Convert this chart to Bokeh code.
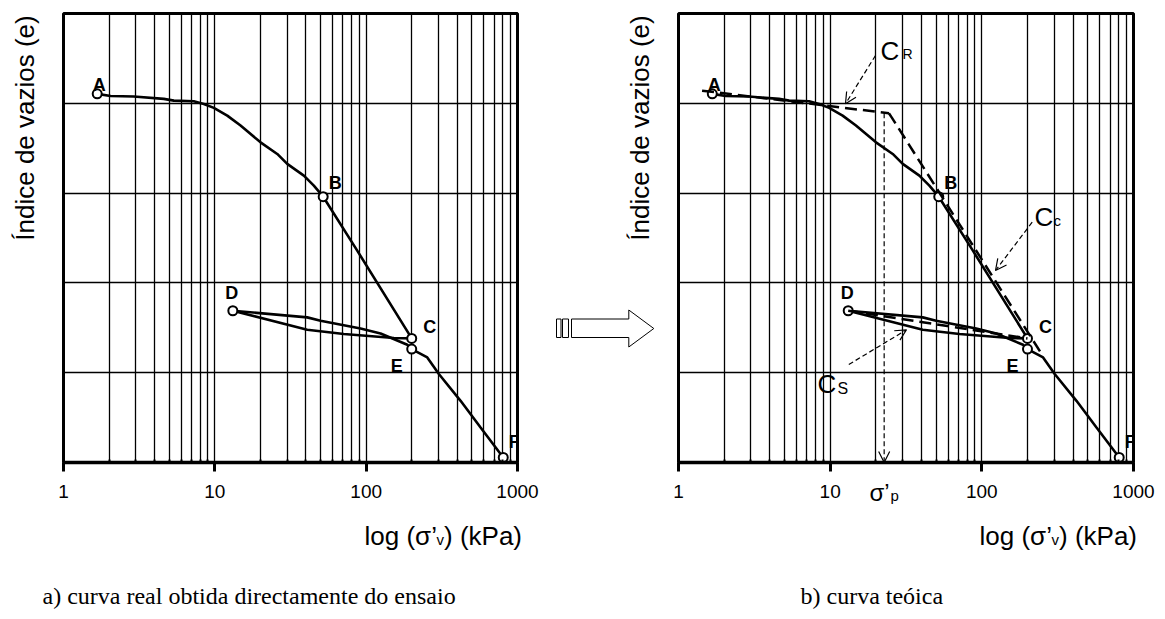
import math
from bokeh.plotting import figure
from bokeh.layouts import row, column
from bokeh.models import (Range1d, FixedTicker, NumeralTickFormatter, Label, Arrow,
                          OpenHead, ColumnDataSource, GridBox)
from bokeh.core.properties import value
from bokeh.embed import file_html
from bokeh.resources import INLINE

# ---------------- data ----------------
x_major = [1, 10, 100, 1000]
x_minor = [2, 3, 4, 5, 6, 7, 8, 9, 20, 30, 40, 50, 60, 70, 80, 90,
           200, 300, 400, 500, 600, 700, 800, 900]
e_grid = [1, 2, 3, 4]

# loading branch A -> B -> C  (sigma'v in kPa, void ratio in grid units)
load_s = [1.67, 2.05, 2.91, 4.60, 5.36, 7.26, 8.46, 9.85, 12.08, 14.79, 20.05,
          25.85, 30.09, 38.74, 45.1, 52.0, 87.3, 200]
load_e = [4.105, 4.082, 4.075, 4.049, 4.030, 4.022, 3.993, 3.949, 3.863, 3.752,
          3.565, 3.436, 3.325, 3.194, 3.083, 2.96, 2.359, 1.382]
# unloading C -> D
unload_s = [200, 152.5, 71.2, 40.8, 13.15]
unload_e = [1.382, 1.386, 1.431, 1.479, 1.69]
# reloading D -> E -> F
reload_s = [13.15, 40.8, 49.96, 91.8, 124.5, 186.9, 200, 253.4, 302.3, 420.7, 570.2, 805]
reload_e = [1.69, 1.616, 1.579, 1.493, 1.437, 1.311, 1.263, 1.170, 0.985, 0.687, 0.390, 0.056]

pt_names = ["A", "B", "C", "D", "E", "F"]
pt_s = [1.67, 52.0, 200, 13.15, 200, 805]
pt_e = [4.105, 2.96, 1.382, 1.69, 1.263, 0.056]

# theoretical construction lines (right chart)
cr_s = [1.43, 24.4]
cr_e = [4.141, 3.889]
cc_s = [24.4, 25.5, 245.0]
cc_e = [3.889, 3.841, 1.222]
cs_s = [13.15, 200]
cs_e = [1.69, 1.382]
sigma_p = 22.7

y_title = "Índice de vazios (e)"
captions = ["a) curva real obtida directamente do ensaio", "b) curva teóica"]

# ---------------- layout ----------------
FB = 462.0          # frame bottom (page px)
FT = 13.0
UNIT = (FB - FT) / 5.0
H = 619
W = 1165


def make_fig(width, border_left, border_right):
    p = figure(width=width, height=H, x_axis_type="log",
               x_range=Range1d(1, 1000), y_range=Range1d(0, 5),
               output_backend="svg", toolbar_location=None,
               min_border_left=border_left, min_border_right=border_right,
               min_border_top=int(FT), min_border_bottom=int(H - FB))
    p.background_fill_color = "white"
    p.border_fill_color = "white"
    p.outline_line_color = "black"
    p.outline_line_width = 3
    p.yaxis.visible = False
    xa = p.xaxis[0]
    xa.ticker = FixedTicker(ticks=x_major, minor_ticks=x_minor)
    xa.formatter = NumeralTickFormatter(format="0")
    xa.axis_line_width = 3.5
    xa.axis_line_color = "black"
    xa.major_tick_out = 9
    xa.major_tick_in = 0
    xa.major_tick_line_width = 3
    xa.major_tick_line_color = "black"
    xa.minor_tick_in = 3
    xa.minor_tick_out = 0
    xa.minor_tick_line_width = 2
    xa.minor_tick_line_color = "black"
    xa.major_label_text_font = "Liberation Sans"
    xa.major_label_text_font_size = "19px"
    xa.major_label_text_color = "black"
    xa.major_label_standoff = 13
    g = p.xgrid[0]
    g.grid_line_color = "black"
    g.grid_line_width = 1.3
    g.minor_grid_line_color = "black"
    g.minor_grid_line_width = 1.3
    yg = p.ygrid[0]
    yg.ticker = FixedTicker(ticks=e_grid)
    yg.grid_line_color = "black"
    yg.grid_line_width = 1.3
    return p


def draw_curve(p):
    p.line(load_s, load_e, line_color="black", line_width=2.6)
    p.line(unload_s, unload_e, line_color="black", line_width=2.6)
    p.line(reload_s, reload_e, line_color="black", line_width=2.6)
    p.scatter(pt_s, pt_e, marker="circle", size=9, fill_color="white",
              line_color="black", line_width=2)
    offs_x = [2, 12, 18, -1, -15, 11]
    offs_y = [-9, -14, -11, -18, 17, -15]
    src = ColumnDataSource(dict(x=pt_s, y=pt_e, t=pt_names, dx=offs_x, dy=offs_y))
    p.text("x", "y", text="t", source=src, x_offset="dx", y_offset="dy",
           text_align="center", text_baseline="middle",
           text_font=value("Liberation Sans"), text_font_style="bold",
           text_font_size="18px", text_color="black")


# ---------------- left chart ----------------
p1 = make_fig(550, 63, 33)
draw_curve(p1)

# ---------------- right chart ----------------
p2 = make_fig(615, 128, 32)
FL2 = 678
DEC2 = (1133 - 678) / 3
draw_curve(p2)


def X(px):
    return 10 ** ((px - FL2) / DEC2)


def Y(py):
    return (FB - py) / UNIT


dash_kw = dict(line_color="black", line_width=2.5, line_dash="12 6")
p2.line(cr_s, cr_e, **dash_kw)
p2.line(cc_s, cc_e, **dash_kw)
p2.line(cs_s, cs_e, **dash_kw)


def dashed_arrow(p, xs, ys, xe, ye):
    p.add_layout(Arrow(end=OpenHead(size=11, line_width=1.2, line_color="black"),
                       x_start=xs, y_start=ys, x_end=xe, y_end=ye,
                       line_color="black", line_width=1.2, line_dash="5 3"))


dashed_arrow(p2, sigma_p, cr_e[1], sigma_p, 0)        # sigma'p
dashed_arrow(p2, X(875), Y(55), X(845), Y(103.3))      # C_R
dashed_arrow(p2, X(1031.7), Y(221.7), X(995), Y(270))  # C_c
dashed_arrow(p2, X(848.3), Y(364), X(906), Y(329.3))   # C_s

# ---------------- overlay (page pixel coordinates) for texts outside frames ----------------
ov = figure(width=W, height=H, x_range=Range1d(0, W), y_range=Range1d(H, 0),
            output_backend="svg", toolbar_location=None,
            x_axis_location=None, y_axis_location=None, min_border=0)
ov.grid.visible = False
ov.outline_line_color = None
ov.background_fill_color = None
ov.border_fill_color = None


def lab(px, py, txt, size, font="Liberation Sans", angle=0.0, align="left"):
    ov.add_layout(Label(x=px, y=py, text=txt, text_align=align,
                        text_baseline="alphabetic", text_font=font,
                        text_font_size=size, text_color="black", angle=angle))


def lab2(px, py, txt, size):
    p2.add_layout(Label(x=X(px), y=Y(py), text=txt, text_align="left",
                        text_baseline="alphabetic", text_font="Liberation Sans",
                        text_font_size=size, text_color="black"))


for shift in (0, 615):
    # y axis title
    lab(24 + shift, 127.5, y_title, "26px", angle=math.pi / 2, align="center")
    # x axis title  log (σ'v) (kPa)
    x0 = 364 + shift
    lab(x0, 535, "log (σ’", "26px")
    lab(x0 + 72, 539, "v", "15px")
    lab(x0 + 79.5, 535, ") (kPa)", "26px")

lab(42, 595, captions[0], "24px", font="Liberation Serif")
lab(800, 595, captions[1], "24px", font="Liberation Serif")

# sigma'p
lab(869, 492, "σ’", "24px")
lab(890, 495, "p", "15px")

# labels inside the right frame
lab2(880, 50, "C", "26px")
lab2(902, 53, "R", "14px")
lab2(1034, 216, "C", "26px")
lab2(1053, 220, "c", "15px")
lab2(817, 383, "C", "26px")
lab2(837, 388, "S", "16px")

# block arrow between the charts
ov.patches(xs=[[556, 560.5, 560.5, 556], [562, 568, 568, 562],
               [571, 628.3, 628.3, 653.3, 628.3, 628.3, 571]],
           ys=[[318.5, 318.5, 337, 337], [318.5, 318.5, 337, 337],
               [318.5, 318.5, 309.5, 328, 346.5, 337, 337]],
           fill_color="white", line_color="black", line_width=1)

charts = row(p1, p2, spacing=0)
overlay = column(ov, spacing=0)
layout = GridBox(children=[(charts, 0, 0), (overlay, 0, 0)], spacing=0)
open("out.html", "w").write(file_html(layout, INLINE))
